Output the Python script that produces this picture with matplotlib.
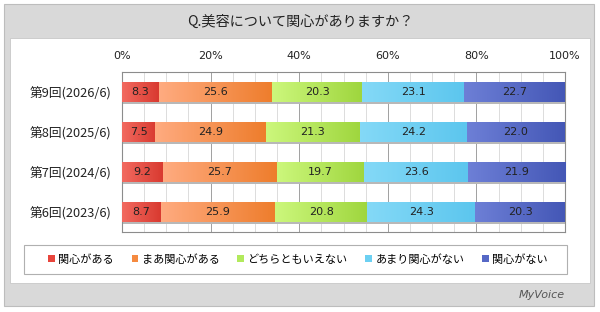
import numpy as np
import matplotlib.pyplot as plt
from matplotlib.patches import Rectangle
from matplotlib.colors import to_rgb

plt.rcParams['font.family'] = ['Noto Sans CJK JP', 'DejaVu Sans']

# data (top row first)
rounds = ['第9回(2026/6)', '第8回(2025/6)', '第7回(2024/6)', '第6回(2023/6)']
answers = ['関心がある', 'まあ関心がある', 'どちらともいえない', 'あまり関心がない', '関心がない']
values = [
    [8.3, 25.6, 20.3, 23.1, 22.7],
    [7.5, 24.9, 21.3, 24.2, 22.0],
    [9.2, 25.7, 19.7, 23.6, 21.9],
    [8.7, 25.9, 20.8, 24.3, 20.3],
]
xticks = [0, 20, 40, 60, 80, 100]
title = 'Q.美容について関心がありますか？'

# gradient colours per answer: (left, right)
grad = [('#f26a60', '#d93a30'), ('#ffab80', '#ee7d2c'), ('#ccf77c', '#9fd63e'),
        ('#84d9f7', '#5cc6ee'), ('#6d7fd6', '#4457b6')]
legend_cols = ['#e8453c', '#f58a40', '#b2ea5c', '#6cd0f2', '#5668c6']

W, H = 600, 312
fig = plt.figure(figsize=(W / 100, H / 100), dpi=100)
fig.patch.set_facecolor('white')

# background panels
fig.patches.append(Rectangle((4 / W, 1 - 306 / H), 590 / W, 302 / H, transform=fig.transFigure,
                             facecolor='#d9d9d9', edgecolor='#bdbdbd', lw=0.8, zorder=-2))
fig.patches.append(Rectangle((10 / W, 1 - 283 / H), 580 / W, 245 / H, transform=fig.transFigure,
                             facecolor='white', edgecolor='#c8c8c8', lw=0.6, zorder=-1))
# legend frame
fig.patches.append(Rectangle((24 / W, 1 - 274 / H), 543 / W, 29 / H, transform=fig.transFigure,
                             facecolor='white', edgecolor='#b0b0b0', lw=0.8, zorder=-1))

fig.text(0.5, 1 - 22 / H, title, ha='center', va='center', fontsize=10.2, color='#222222')

ax = fig.add_axes([122 / W, 1 - 232 / H, 443 / W, 160 / H])
ax.set_facecolor('none')
n = len(rounds)
ypos = np.arange(n)

# grid
for g in range(5, 100, 5):
    ax.axvline(g, color='#a0a0a0' if g % 20 == 0 else '#dcdcdc', lw=0.7, zorder=0)

vals = np.array(values)
left = np.zeros(n)
bars_for_legend = []
for j, ans in enumerate(answers):
    # shadow
    ax.barh(ypos + 0.06, vals[:, j], left=left, height=0.5, color='#b8b8b8', lw=0, zorder=1)
    bars = ax.barh(ypos, vals[:, j], left=left, height=0.5, color=legend_cols[j], lw=0,
                   zorder=2, label=ans)
    bars_for_legend.append(bars)
    c0, c1 = np.array(to_rgb(grad[j][0])), np.array(to_rgb(grad[j][1]))
    g = np.linspace(0, 1, 64)[None, :, None]
    img = c0 + (c1 - c0) * g
    for i, b in enumerate(bars):
        im = ax.imshow(img, extent=(left[i], left[i] + vals[i, j], i + 0.25, i - 0.25),
                       aspect='auto', zorder=3, interpolation='bilinear')
        im.set_clip_path(b)
        ax.text(left[i] + vals[i, j] / 2, i, f'{vals[i, j]:.1f}', ha='center', va='center',
                fontsize=8, color='#222222', zorder=4, family='DejaVu Sans')
    left += vals[:, j]

ax.set_xlim(0, 100)
ax.set_ylim(n - 0.5, -0.5)
ax.set_yticks(ypos)
ax.set_yticklabels(rounds, fontsize=9.2, color='#222222')
ax.set_xticks(xticks)
ax.set_xticklabels([f'{t}%' for t in xticks], fontsize=8, color='#222222', family='DejaVu Sans')
ax.xaxis.tick_top()
ax.tick_params(axis='x', length=0, pad=8)
ax.tick_params(axis='y', length=0, pad=8)
for s in ax.spines.values():
    s.set_color('#8c8c8c')
    s.set_linewidth(0.8)

fig.legend(handles=bars_for_legend, labels=answers, ncol=5, loc='center',
           bbox_to_anchor=(298 / W, 1 - 259.5 / H), frameon=False,
           fontsize=8, handlelength=0.6, handleheight=0.6, handletextpad=0.3,
           columnspacing=1.6)

fig.text(565 / W, 1 - 295 / H, 'MyVoice', ha='right', va='center', fontsize=8,
         color='#555555', family='DejaVu Sans', style='italic')

fig.savefig('out.png', dpi=100)
